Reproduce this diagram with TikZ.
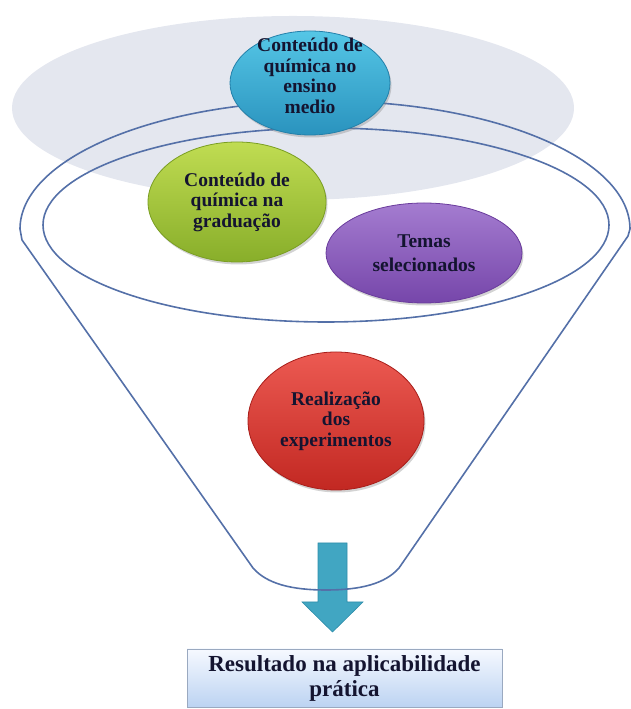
\documentclass[tikz,border=0pt]{standalone}
\usepackage{fontspec}
\setmainfont{Liberation Serif}
\usetikzlibrary{shapes.geometric,shadows}
\definecolor{txt}{HTML}{141430}
\definecolor{grayell}{HTML}{E4E7EF}
\definecolor{funnel}{HTML}{5470A8}
\definecolor{bluetop}{HTML}{55C6E6}
\definecolor{bluebot}{HTML}{2A93BE}
\definecolor{blueedge}{HTML}{2380AA}
\definecolor{greentop}{HTML}{C0DC52}
\definecolor{greenbot}{HTML}{88AE2A}
\definecolor{greenedge}{HTML}{7A9E22}
\definecolor{purptop}{HTML}{A47CD0}
\definecolor{purpbot}{HTML}{7646AA}
\definecolor{purpedge}{HTML}{6A3C9C}
\definecolor{redtop}{HTML}{EC5A52}
\definecolor{redbot}{HTML}{C22822}
\definecolor{rededge}{HTML}{A81E1A}
\definecolor{arrowfill}{HTML}{41A6C2}
\definecolor{arrowedge}{HTML}{2F8DAA}
\definecolor{boxtop}{HTML}{F6F9FF}
\definecolor{boxbot}{HTML}{BCD3F2}
\definecolor{boxedge}{HTML}{9AA9C0}
\tikzset{
  orb/.style={ellipse, draw, line width=0.8pt, inner sep=0pt,
    drop shadow={opacity=0.35, shadow xshift=1.5pt, shadow yshift=-2.5pt}},
  orbtext/.style={align=center, text=txt, font=\bfseries\fontsize{19.5}{20.5}\selectfont, inner sep=0pt},
  funnelline/.style={draw=funnel, line width=1.6pt},
}
\begin{document}
\begin{tikzpicture}[x=1pt,y=1pt]
\useasboundingbox (0,0) rectangle (631,709);
% gray background ellipse
\fill[grayell] (293,601) ellipse [x radius=281, y radius=92];
% arrow
\fill[arrowfill, draw=arrowedge, line width=0.6pt]
  (318,166) -- (347,166) -- (347,107) -- (363,107) -- (332.5,77) -- (302,107) -- (318,107) -- cycle;
% funnel outline
\draw[funnelline, line join=round]
  (253,141) -- (22,469) -- (20,480) arc[start angle=180, end angle=0, x radius=305, y radius=128]
  -- (628,473) -- (399,141)
  .. controls (385,125) and (360,119) .. (326,119)
  .. controls (292,119) and (267,125) .. (253,141) -- cycle;
% inner rim ellipse
\draw[funnelline] (326,484) ellipse [x radius=283, y radius=97];
% orbs
\node[orb, draw=blueedge, top color=bluetop, bottom color=bluebot,
  minimum width=160pt, minimum height=104pt] (ensino) at (310,626) {};
\node[orbtext] (ensinotxt) at (310,633) {Conteúdo de\\química no\\ensino\\medio};
\node[orb, draw=greenedge, top color=greentop, bottom color=greenbot,
  minimum width=178pt, minimum height=120pt] (grad) at (237,507) {};
\node[orbtext] (gradtxt) at (grad.center) {Conteúdo de\\química na\\graduação};
\node[orb, draw=purpedge, top color=purptop, bottom color=purpbot,
  minimum width=196pt, minimum height=100pt] (temas) at (424,456) {};
\node[orbtext, font=\bfseries\fontsize{19.5}{24}\selectfont] (temastxt) at (temas.center) {Temas\\selecionados};
\node[orb, draw=rededge, top color=redtop, bottom color=redbot,
  minimum width=176pt, minimum height=138pt] (exp) at (336,288) {};
\node[orbtext] (exptxt) at (exp.center) {Realização\\dos\\experimentos};
% result box
\node[rectangle, draw=boxedge, line width=0.8pt, top color=boxtop, bottom color=boxbot,
  minimum width=315pt, minimum height=58pt, align=center, text=txt,
  font=\bfseries\fontsize{23}{25}\selectfont, inner sep=0pt] (result) at (344.5,31)
  {Resultado na aplicabilidade\\prática};
\end{tikzpicture}
\end{document}
